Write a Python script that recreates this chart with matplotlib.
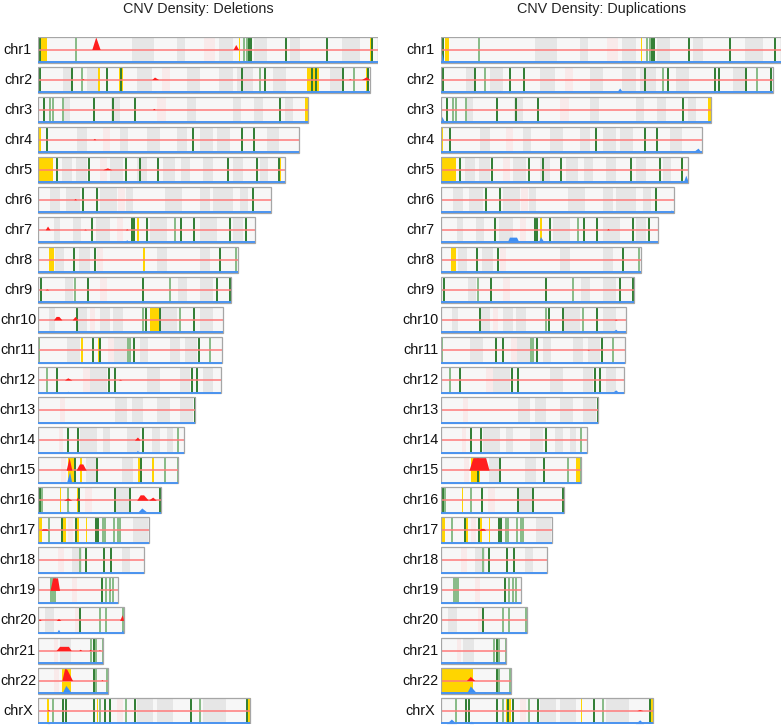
import matplotlib
matplotlib.use('Agg')
import matplotlib.pyplot as plt
from matplotlib.patches import Rectangle
from matplotlib.transforms import blended_transform_factory
import numpy as np

# ---------------- data ----------------
CHROMS = ['chr1', 'chr2', 'chr3', 'chr4', 'chr5', 'chr6', 'chr7', 'chr8', 'chr9', 'chr10',
          'chr11', 'chr12', 'chr13', 'chr14', 'chr15', 'chr16', 'chr17', 'chr18', 'chr19',
          'chr20', 'chr21', 'chr22', 'chrX']
LENGTHS = [249.25, 243.2, 198.0, 191.15, 180.9, 171.1, 159.1, 146.4, 141.2, 135.5, 135.0,
           133.85, 115.2, 107.3, 102.5, 90.35, 81.2, 78.1, 59.1, 63.0, 48.1, 51.3, 155.3]
CENTROMERES = [(122, 130), (90.8, 96.9), (87, 94), (48, 53), (45.7, 50.6), (59, 64), (58, 62.7),
               (43.3, 48), (45.7, 50.6), (38, 42.3), (51.4, 55.7), (33.5, 38.4), (16.4, 20),
               (15.5, 18.5), (17, 20.5), (34.7, 39.6), (22.3, 25.8), (15.2, 18.9), (25, 28.6),
               (27.4, 31), (11.6, 15.2), (12.2, 15.9), (58, 62.7)]
GRAY_BANDS = [
    [(69, 85), (102, 108), (133, 143), (158, 168), (185, 192), (223, 236)],
    [(18.7, 25), (36, 45.7), (72.5, 83.5), (109, 119), (133, 143), (145.6, 157.5), (172, 182), (214, 223)],
    [(18.7, 23.8), (54, 60), (109, 116), (143, 149), (158, 165), (181, 187)],
    [(28.6, 36), (60, 66), (80, 89.5), (101.7, 109), (119, 128), (131, 141), (167.5, 177)],
    [(17.7, 25), (28, 36), (53, 62.5), (72.5, 80), (92, 100.5), (105, 111.5), (121, 128), (143, 150), (162.6, 168.5)],
    [(9, 16.5), (21, 31), (45.7, 58), (65, 70), (93, 105.5), (119, 126), (128, 143), (148, 154)],
    [(11.6, 16.5), (26, 32), (43, 53), (82, 94.4), (119, 131), (143, 150)],
    [(12.8, 18.9), (30, 38), (87, 94.5), (119, 126)],
    [(20, 26), (103, 109), (119, 128)],
    [(8, 12.8), (28.6, 36), (45.7, 53), (55, 62.5), (89.5, 101.7), (119, 128.5)],
    [(21.3, 31), (56, 65.2), (75, 81), (96.9, 104), (108, 116.4)],
    [(38.4, 50.6), (80, 89.5), (104, 111.5), (121, 128.5)],
    [(56.7, 65.2), (68.9, 77.3), (87, 97), (104, 114)],
    [(31, 43.3), (48, 53), (65.2, 75), (83.5, 89.5), (94.4, 99.3)],
    [(35, 44), (62, 70)],
    [(56.7, 67.6)],
    [(70, 81)],
    [(25, 32.3), (61.5, 67.6)],
    [],
    [(5, 12)],
    [(16, 24.5)],
    [],
    [(72.5, 84.6), (87, 99), (121, 138)],
]
# (position Mb, 'd' dark / 'l' light)
GREEN_MARKS = [
    [(1.5, 'd'), (28, 'l'), (151.2, 'l'), (153, 'l'), (154.8, 'd'), (155.8, 'd'), (182, 'd'), (211.5, 'd'), (245, 'd')],
    [(2, 'd'), (25.2, 'd'), (32.5, 'l'), (50.8, 'd'), (61, 'd'), (149.3, 'd'), (162.5, 'l'), (166.6, 'd'), (200.5, 'd'), (204, 'd'), (223.6, 'd'), (231.2, 'l'), (241.5, 'd')],
    [(4.8, 'd'), (9.2, 'l'), (11, 'l'), (18.8, 'l'), (41.5, 'd'), (55, 'd'), (71.3, 'd'), (177.2, 'd')],
    [(7, 'd'), (114, 'd'), (149.3, 'd'), (158.4, 'd')],
    [(14.4, 'd'), (37.3, 'd'), (65, 'd'), (75, 'd'), (88.3, 'd'), (139.5, 'd'), (160.9, 'd'), (176.7, 'd')],
    [(33.4, 'd'), (43.3, 'd'), (157.5, 'd')],
    [(40, 'd'), (69.3, 'd'), (70.2, 'd'), (79.8, 'd'), (100.5, 'l'), (104.8, 'd'), (114.2, 'd'), (140.8, 'd'), (152.2, 'd')],
    [(26.6, 'd'), (42.3, 'd'), (133.4, 'd'), (145, 'l')],
    [(2.5, 'd'), (27.4, 'l'), (37.1, 'd'), (77.3, 'd'), (96.7, 'l'), (131, 'd'), (140.7, 'd')],
    [(28.6, 'd'), (76.9, 'l'), (79.2, 'd'), (89.5, 'd'), (104.1, 'l'), (114.7, 'd')],
    [(1, 'l'), (40.8, 'd'), (45.6, 'd'), (66.2, 'l'), (67.8, 'l'), (70.8, 'd'), (118.4, 'd'), (126.4, 'l')],
    [(6.6, 'l'), (14.2, 'd'), (52.3, 'd'), (56.9, 'd'), (112.8, 'd'), (116.6, 'd')],
    [(115.2, 'd')],
    [(22, 'd'), (29.4, 'd'), (77.3, 'd'), (102.8, 'l')],
    [(27.1, 'd'), (43.7, 'd'), (75.3, 'd'), (93.5, 'l'), (102.5, 'l')],
    [(2, 'd'), (3.4, 'l'), (22.5, 'l'), (30, 'd'), (56.4, 'd'), (67.8, 'd'), (89.8, 'd')],
    [(8.2, 'l'), (18.1, 'd'), (27.7, 'd'), (43, 'd'), (44.3, 'd'), (48.1, 'l'), (49.5, 'l'), (56.2, 'l'), (58.8, 'l'), (60.5, 'l')],
    [(31.3, 'l'), (35.1, 'd'), (48.5, 'd'), (53.4, 'd')],
    [(10, 'l'), (11.3, 'l'), (12.7, 'l'), (46.9, 'd'), (49.9, 'l'), (52.6, 'l'), (55.4, 'l')],
    [(30.8, 'd'), (45.9, 'l'), (49.9, 'l'), (62.5, 'l')],
    [(39.3, 'l'), (41, 'd'), (42.9, 'l'), (47.6, 'l')],
    [(41.5, 'd'), (42.9, 'l'), (51, 'l')],
    [(11, 'l'), (18.6, 'd'), (20.6, 'd'), (41.2, 'd'), (45.4, 'l'), (49.3, 'd'), (53.2, 'd'), (64.6, 'l'), (71.2, 'd'), (112, 'd'), (119, 'l'), (153.3, 'd')],
]
DEL_YELLOW = [
    [(1, 7), (147, 148), (243, 245.6)], [(44.5, 45.5), (59.4, 62.7), (197, 206), (240, 242.5)],
    [(196, 198)], [(0, 2.3)], [(0, 11.5), (176.3, 177.8)], [], [(73, 74.2)], [(8.4, 12.1), (77.4, 78.2)],
    [], [(82.2, 89)], [(0, 1.8), (31.8, 33), (44.2, 46.2)], [], [], [],
    [(22.5, 27.5), (31.3, 32.7), (73.2, 76.2), (83.7, 85.2)], [(16, 17), (22.2, 22.9), (29, 30.3)],
    [(1.1, 3.1), (17.2, 20.8), (29, 30.3), (35.5, 36.4)], [], [], [], [], [(18.1, 24.3)],
    [(6.7, 8.6), (43.7, 44.4), (154, 155.8)],
]
DUP_YELLOW = [
    [(3, 6), (146.6, 147.4)], [], [(196, 198.5)], [(0, 1.7)], [(0, 11.5), (176, 177.6)], [], [(72.5, 74.2)],
    [(7.8, 11.5)], [], [], [], [], [], [], [(22.5, 28.6), (98.8, 103)], [(15.3, 16)],
    [(1, 2.9), (16.8, 20), (28.5, 30), (35.4, 36.4)], [], [], [], [], [(0, 23.9)],
    [(48, 51.8), (102.6, 103.4), (154.2, 155.4)],
]
# density peaks: (x positions Mb, relative heights)
DEL_RED = [
    [((39.6, 42.5, 45.7), (0, 1.0, 0)), ((143, 145, 147), (0, 0.4, 0))],
    [((83.5, 85.5, 88.5), (0, 0.2, 0)), ((237, 240.6, 243), (0, 0.22, 0)), ((32, 33, 34), (0, 0.08, 0)), ((227.5, 228.5, 229.5), (0, 0.07, 0))],
    [((84, 85, 86), (0, 0.1, 0))],
    [((40.5, 41.5, 42.5), (0, 0.1, 0))],
    [((47.6, 51, 54.2), (0, 0.15, 0))],
    [((26.4, 27.4, 28.4), (0, 0.1, 0))],
    [((5.5, 7.2, 9), (0, 0.3, 0)), ((33.7, 34.7, 35.7), (0, 0.06, 0)), ((64.2, 65.2, 66.2), (0, 0.08, 0))],
    [],
    [((5.2, 6.7, 8.2), (0, 0.08, 0))],
    [((11.5, 13.5, 15.5, 17.7), (0, 0.28, 0.28, 0)), ((25.2, 27.4, 29.1), (0, 0.28, 0))],
    [],
    [((19.6, 22, 25), (0, 0.18, 0)), ((59, 60.3, 61.6), (0, 0.06, 0))],
    [],
    [((70.8, 73, 75), (0, 0.25, 0))],
    [((20.8, 23, 25), (0, 1.0, 0)), ((28.1, 30.5, 33, 35.5), (0, 0.5, 0.5, 0)), ((42.5, 43.3, 44.1), (0, 0.12, 0))],
    [((18.9, 22, 25), (0, 0.18, 0)), ((28, 29.1, 30.2), (0, 0.25, 0)), ((72.5, 75, 77.5, 81), (0, 0.43, 0.43, 0)), ((81, 84.2, 86.8), (0, 0.25, 0))],
    [((2.5, 3.5, 6.5, 7.9), (0, 0.12, 0.12, 0)), ((28.1, 28.6, 29.1), (0, 0.06, 0))],
    [],
    [((9, 11, 14.5, 16), (0, 1.2, 1.2, 0)), ((52.3, 53, 53.7), (0, 0.1, 0))],
    [((0, 1.3, 2.6), (0, 0.12, 0)), ((13.5, 15.2, 17), (0, 0.15, 0)), ((60, 61.8, 63), (0, 0.45, 0))],
    [((13.5, 16, 22.5, 24.5), (0, 0.33, 0.33, 0)), ((30, 31.1, 32.2), (0, 0.1, 0)), ((37.5, 38.4, 39.3), (0, 0.1, 0)), ((44.5, 45.2, 45.9), (0, 0.06, 0))],
    [((17.7, 19.8, 21.3, 25.5), (0, 1.0, 0.9, 0)), ((46.3, 47, 47.7), (0, 0.08, 0))],
    [((7, 7.9, 8.8), (0, 0.1, 0))],
]
DEL_BLUE = [
    [((173.5, 175, 176.5), (0, 0.08, 0))],
    [((112, 116.4, 119.8), (0, 0.15, 0)), ((83.5, 85.5, 87.5), (0, 0.1, 0)), ((237, 240.6, 243), (0, 0.2, 0)), ((229, 230, 231), (0, 0.08, 0))],
    [((84, 85, 86), (0, 0.08, 0))],
    [],
    [((53, 54, 55), (0, 0.06, 0))],
    [((28, 29, 30), (0, 0.1, 0)), ((162.4, 163.4, 164.4), (0, 0.08, 0))],
    [((63, 65.2, 67), (0, 0.25, 0)), ((151, 152.2, 153.4), (0, 0.12, 0))],
    [((89.5, 93.2, 97), (0, 0.18, 0))],
    [((0, 0.8, 1.6), (0, 0.1, 0))],
    [],
    [],
    [((20.5, 22, 23.5), (0, 0.15, 0))],
    [],
    [((71.5, 73, 74.5), (0, 0.23, 0))],
    [((21, 23.3, 25), (0, 0.92, 0)), ((42.5, 43.3, 44.1), (0, 0.1, 0))],
    [((5.5, 7.4, 9.3), (0, 0.12, 0)), ((19.5, 22.5, 25), (0, 0.18, 0)), ((72.5, 76.2, 81), (0, 0.42, 0)), ((84.5, 86, 87.5), (0, 0.06, 0))],
    [((1.5, 3, 5.5), (0, 0.15, 0))],
    [],
    [((54.7, 55.4, 56.1), (0, 0.1, 0))],
    [((13.5, 15.2, 17), (0, 0.33, 0)), ((60.5, 62, 63), (0, 0.3, 0))],
    [((29.5, 31, 34), (0, 0.12, 0)), ((37.7, 38.4, 39.1), (0, 0.08, 0))],
    [((17.7, 20.6, 25), (0, 0.65, 0))],
    [((7, 7.9, 8.8), (0, 0.1, 0))],
]
DUP_RED = [
    [], [], [], [((5.8, 6.6, 7.4), (0, 0.08, 0))], [], [], [((121.5, 122.5, 123.5), (0, 0.1, 0))], [], [],
    [((127, 128.1, 129.2), (0, 0.06, 0))], [((107, 108, 109), (0, 0.05, 0))], [], [], [],
    [((20.7, 23.6, 32.9, 35.4), (0, 1.3, 1.3, 0))], [], [((28, 29.5, 31.5, 33), (0, 0.15, 0.15, 0))],
    [], [], [], [], [((18.8, 21.7, 24.9), (0, 0.33, 0))], [((143.5, 145.7, 148), (0, 0.08, 0))],
]
DUP_BLUE = [
    [((0, 0.8, 2.5), (0, 0.75, 0))],
    [((41.5, 43.2, 45), (0, 0.18, 0)), ((128.6, 131, 133.5), (0, 0.36, 0)), ((137.3, 138.4, 139.5), (0, 0.1, 0))],
    [((0, 0.8, 3), (0, 0.5, 0))],
    [((184, 188.4, 191), (0, 0.36, 0))],
    [((177.5, 179.4, 181.5), (0, 0.6, 0))],
    [((167, 168.9, 170.5), (0, 0.23, 0))],
    [((48.5, 50.3, 55.5, 57.5), (0, 0.45, 0.45, 0)), ((63.7, 64.7, 65.7), (0, 0.12, 0)), ((71.5, 73, 76), (0, 0.5, 0)), ((133, 134, 135), (0, 0.08, 0))],
    [],
    [],
    [((45.7, 46.9, 48.1), (0, 0.15, 0)), ((125, 128.1, 131), (0, 0.3, 0))],
    [((0, 0.5, 1.5), (0, 0.1, 0)), ((106.5, 107.8, 109.1), (0, 0.12, 0))],
    [((10.5, 11.5, 12.5), (0, 0.12, 0)), ((125, 128.1, 131), (0, 0.25, 0))],
    [],
    [((89.8, 90.8, 91.8), (0, 0.06, 0))],
    [((43.5, 44.9, 46.3), (0, 0.12, 0))],
    [((1.2, 2.4, 3.6), (0, 0.18, 0)), ((13.5, 15.9, 18.5), (0, 0.12, 0)), ((76, 76.9, 77.8), (0, 0.08, 0))],
    [((1.4, 2.4, 3.4), (0, 0.15, 0)), ((13.4, 14.6, 15.8), (0, 0.15, 0)), ((44.2, 44.9, 45.6), (0, 0.08, 0))],
    [((11.5, 12.7, 13.9), (0, 0.12, 0))],
    [((0, 0.5, 1.5), (0, 0.15, 0))],
    [],
    [((46, 47.6, 48.1), (0, 0.25, 0))],
    [((18.8, 21.7, 26.6), (0, 0.6, 0)), ((31.4, 32.2, 33), (0, 0.1, 0))],
    [((4.2, 7.8, 11.5), (0, 0.36, 0)), ((21, 22.5, 24), (0, 0.2, 0)), ((142.5, 145.7, 148.5), (0, 0.3, 0))],
]
TITLES = ['CNV Density: Deletions', 'CNV Density: Duplications']

# ---------------- layout / style ----------------
W, H = 783, 725
PX_PER_MB = 1.366
ROW_TOP = 36.5
PITCH = 30.05
BOX = 26.0
BH = BOX / PITCH
NROWS = len(CHROMS)
AX_H = (NROWS - 1) * PITCH + BOX
FONT = ['Liberation Sans', 'DejaVu Sans']

fig = plt.figure(figsize=(W / 100, H / 100), dpi=100)
fig.patch.set_facecolor('white')


def draw_panel(x0, label_x, title_x, title, yellow, red, blue):
    ax = fig.add_axes([x0 / W, 1 - (ROW_TOP + AX_H) / H, LENGTHS[0] * PX_PER_MB / W, AX_H / H])
    ax.set_xlim(0, LENGTHS[0])
    ax.set_ylim(NROWS - 1 + BH, 0)
    ax.axis('off')
    trans = blended_transform_factory(fig.transFigure, ax.transData)
    half = BH / 2
    for i, name in enumerate(CHROMS):
        top, bot, mid = i, i + BH, i + half
        L = LENGTHS[i]
        ax.add_patch(Rectangle((0, top), L, BH, facecolor='#f7f7f7', edgecolor='none', zorder=0))
        for s, e in GRAY_BANDS[i]:
            ax.add_patch(Rectangle((s, top), e - s, BH, facecolor='#e6e6e6', edgecolor='none', zorder=1))
        cs, ce = CENTROMERES[i]
        ax.add_patch(Rectangle((cs, top), ce - cs, BH, facecolor='#f9eaea', edgecolor='none', zorder=1))
        for s, e in yellow[i]:
            ax.add_patch(Rectangle((s, top), max(e - s, 0.8), BH, facecolor='#ffd500', edgecolor='none', zorder=2))
        for pos, kind in GREEN_MARKS[i]:
            ax.vlines(pos, top, bot, colors='#2f7d32' if kind == 'd' else '#86bb86',
                      linewidth=1.4, zorder=3)
        ax.hlines(mid, 0, L, colors='#ff7a7a', linewidth=1.1, zorder=4)
        for xs, hs in red[i]:
            hs = np.minimum(np.array(hs), 1.0)
            ax.fill_between(xs, mid, mid - hs * half * 0.97, color='#ff1e1e', linewidth=0, zorder=5)
        for xs, hs in blue[i]:
            hs = np.minimum(np.array(hs), 1.0)
            ax.fill_between(xs, bot, bot - hs * half * 0.97, color='#3d8ef2', linewidth=0, zorder=5)
        ax.add_patch(Rectangle((0, top), L, BH, facecolor='none', edgecolor='#a6a6a6',
                               linewidth=0.9, zorder=6))
        ax.hlines(bot - 0.015, 0, L, colors='#4a93f0', linewidth=1.4, zorder=7)
        ax.text(label_x / W, mid, name, transform=trans, ha='center', va='center',
                fontsize=10.4, family=FONT, color='#111111')
    fig.text(title_x / W, 1 - 12.5 / H, title, ha='center', va='baseline',
             fontsize=10.4, family=FONT, color='#222222')


draw_panel(37.7, 18, 198, TITLES[0], DEL_YELLOW, DEL_RED, DEL_BLUE)
draw_panel(440.7, 420.5, 601.5, TITLES[1], DUP_YELLOW, DUP_RED, DUP_BLUE)

fig.savefig('out.png', dpi=100, facecolor='white')
